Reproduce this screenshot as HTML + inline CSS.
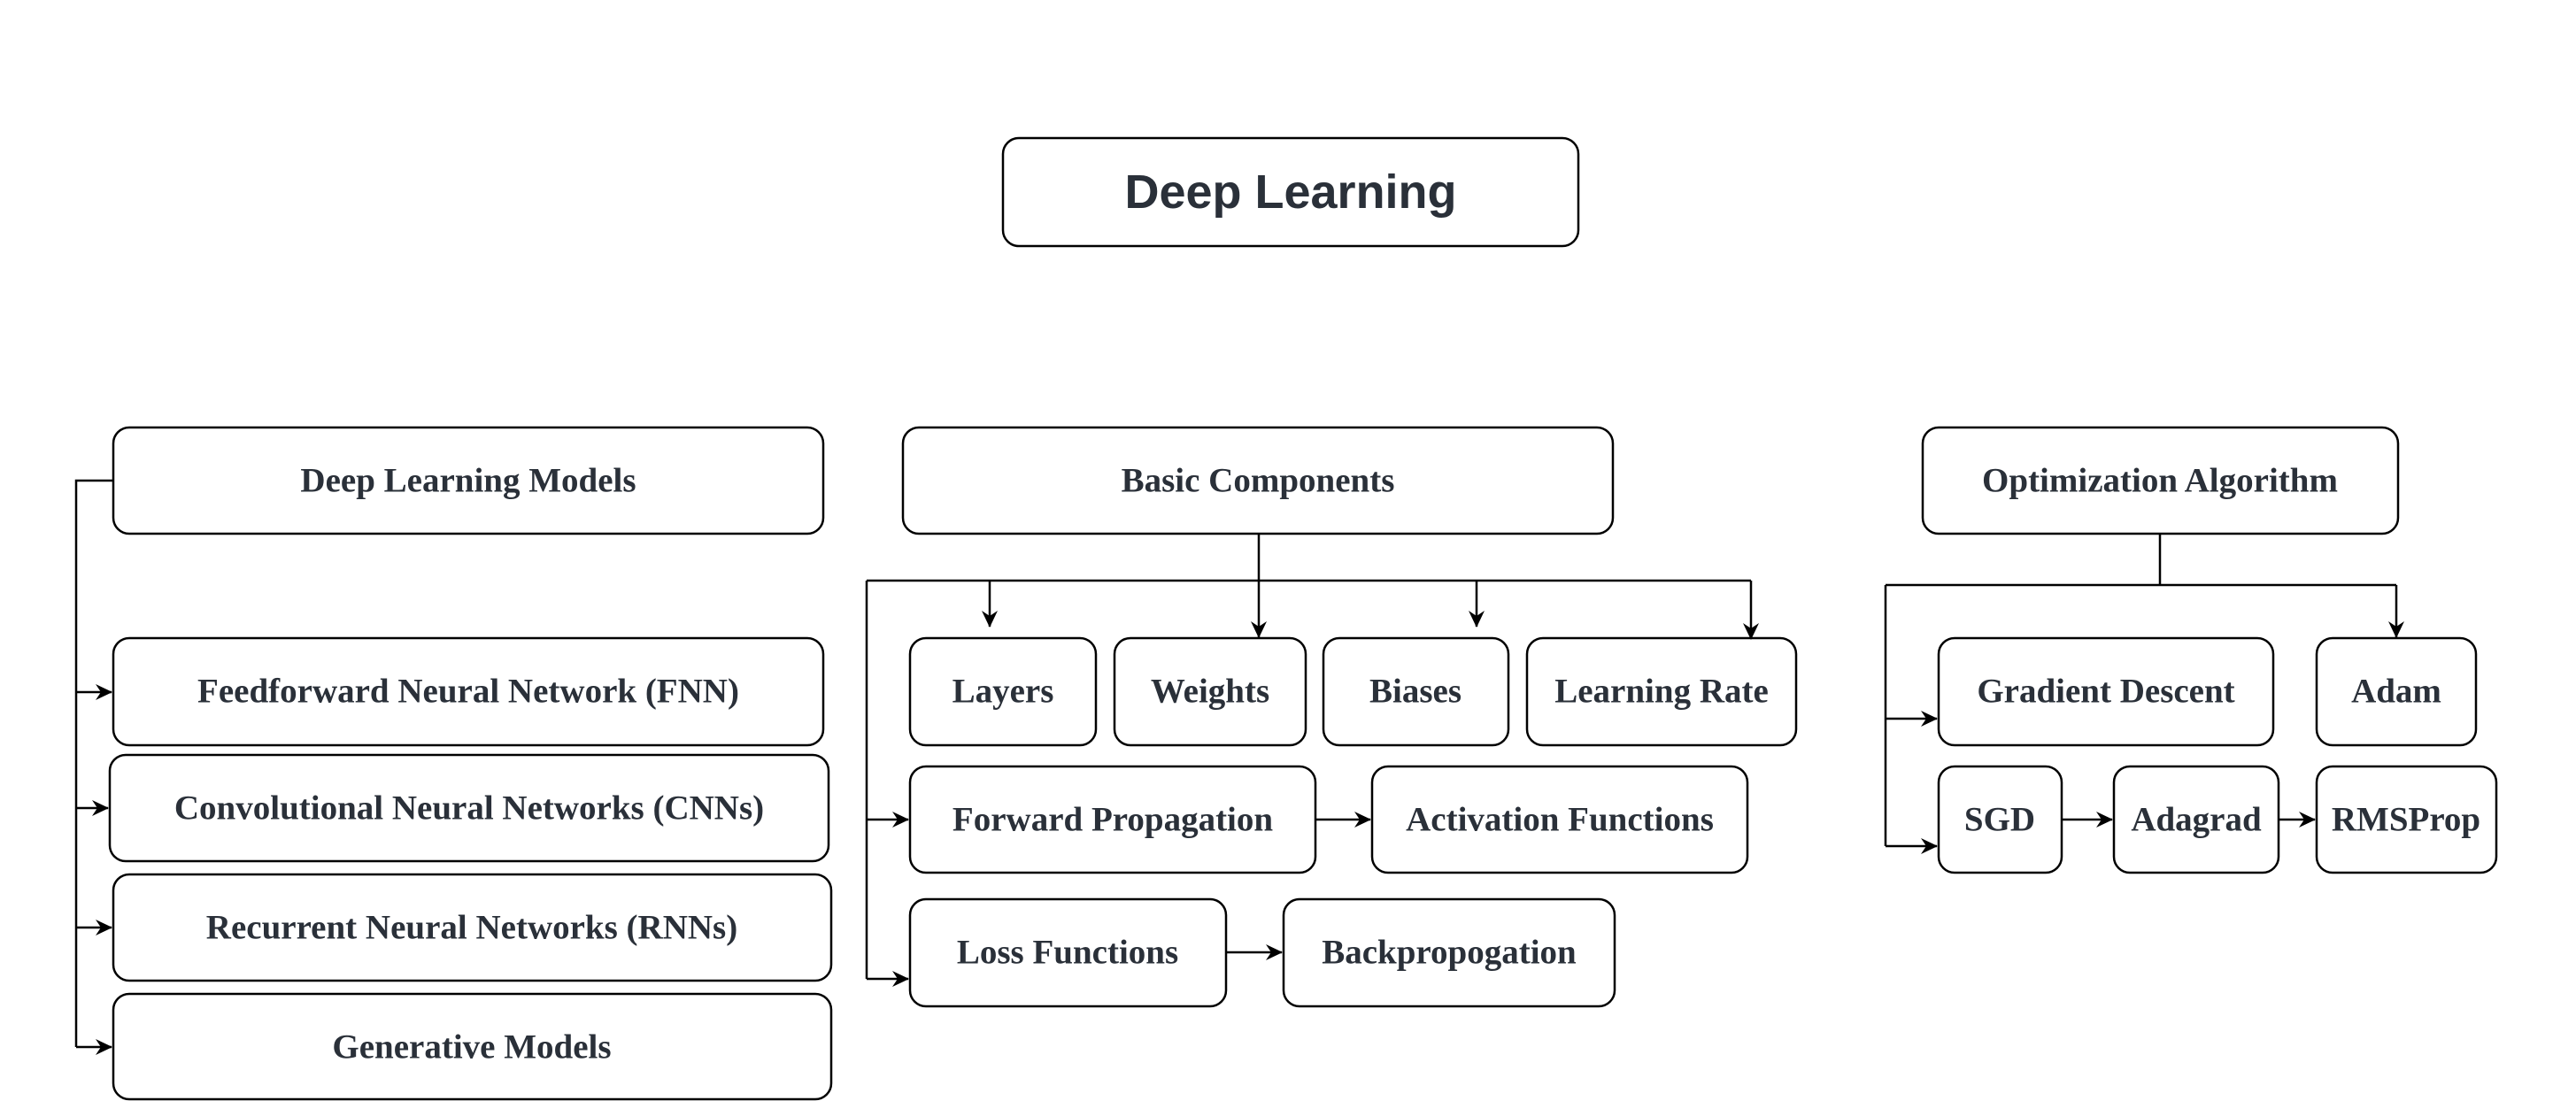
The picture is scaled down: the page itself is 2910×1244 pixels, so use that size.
<!DOCTYPE html>
<html><head><meta charset="utf-8"><style>
html,body{margin:0;padding:0;background:#fff}
svg{display:block}
text{font-family:"Liberation Serif",serif;font-weight:bold;font-size:39px;fill:#2a3039;text-anchor:middle;dominant-baseline:central}
</style></head><body>
<svg width="2910" height="1244" viewBox="0 0 2910 1244" xmlns="http://www.w3.org/2000/svg">
<defs><marker id="a" markerWidth="20" markerHeight="20" refX="18" refY="10" orient="auto" markerUnits="userSpaceOnUse"><path d="M0,1 L19,10 L0,19 L6,10 z" fill="#000"/></marker></defs>
<g fill="#fff" stroke="#000" stroke-width="2.5">
<rect x="1133" y="156" width="650" height="122" rx="18"/>
<rect x="128" y="483" width="802" height="120" rx="18"/>
<rect x="1020" y="483" width="802" height="120" rx="18"/>
<rect x="2172" y="483" width="537" height="120" rx="18"/>
<rect x="128" y="721" width="802" height="121" rx="18"/>
<rect x="124" y="853" width="812" height="120" rx="18"/>
<rect x="128" y="988" width="811" height="120" rx="18"/>
<rect x="128" y="1123" width="811" height="119" rx="18"/>
<rect x="1028" y="721" width="210" height="121" rx="18"/>
<rect x="1259" y="721" width="216" height="121" rx="18"/>
<rect x="1495" y="721" width="209" height="121" rx="18"/>
<rect x="1725" y="721" width="304" height="121" rx="18"/>
<rect x="1028" y="866" width="458" height="120" rx="18"/>
<rect x="1550" y="866" width="424" height="120" rx="18"/>
<rect x="1028" y="1016" width="357" height="121" rx="18"/>
<rect x="1450" y="1016" width="374" height="121" rx="18"/>
<rect x="2190" y="721" width="378" height="121" rx="18"/>
<rect x="2617" y="721" width="180" height="121" rx="18"/>
<rect x="2190" y="866" width="139" height="120" rx="18"/>
<rect x="2388" y="866" width="186" height="120" rx="18"/>
<rect x="2617" y="866" width="203" height="120" rx="18"/>
</g>
<g fill="none" stroke="#000" stroke-width="2.5">
<path d="M128,543 H86 V1183"/>
<path d="M86,782 H126" marker-end="url(#a)"/>
<path d="M86,913 H122" marker-end="url(#a)"/>
<path d="M86,1048 H126" marker-end="url(#a)"/>
<path d="M86,1183 H126" marker-end="url(#a)"/>
<path d="M1422,603 V656 M979,656 H1978 M979,656 V1106"/>
<path d="M1118,656 V708" marker-end="url(#a)"/>
<path d="M1422,656 V720" marker-end="url(#a)"/>
<path d="M1668,656 V708" marker-end="url(#a)"/>
<path d="M1978,656 V722" marker-end="url(#a)"/>
<path d="M979,926 H1026" marker-end="url(#a)"/>
<path d="M979,1106 H1026" marker-end="url(#a)"/>
<path d="M1486,926 H1548" marker-end="url(#a)"/>
<path d="M1385,1076 H1448" marker-end="url(#a)"/>
<path d="M2440,603 V661 M2130,661 H2707 M2130,661 V956"/>
<path d="M2707,661 V720" marker-end="url(#a)"/>
<path d="M2130,812 H2188" marker-end="url(#a)"/>
<path d="M2130,956 H2188" marker-end="url(#a)"/>
<path d="M2329,926 H2386" marker-end="url(#a)"/>
<path d="M2574,926 H2615" marker-end="url(#a)"/>
</g>
<text x="1458" y="217" style="font-family:'Liberation Sans',sans-serif;font-size:54px">Deep Learning</text>
<text x="529" y="543">Deep Learning Models</text>
<text x="1421" y="543">Basic Components</text>
<text x="2440" y="543">Optimization Algorithm</text>
<text x="529" y="781">Feedforward Neural Network (FNN)</text>
<text x="530" y="913">Convolutional Neural Networks (CNNs)</text>
<text x="533" y="1048">Recurrent Neural Networks (RNNs)</text>
<text x="533" y="1183">Generative Models</text>
<text x="1133" y="781">Layers</text>
<text x="1367" y="781">Weights</text>
<text x="1599" y="781">Biases</text>
<text x="1877" y="781">Learning Rate</text>
<text x="1257" y="926">Forward Propagation</text>
<text x="1762" y="926">Activation Functions</text>
<text x="1206" y="1076">Loss Functions</text>
<text x="1637" y="1076">Backpropogation</text>
<text x="2379" y="781">Gradient Descent</text>
<text x="2707" y="781">Adam</text>
<text x="2259" y="926">SGD</text>
<text x="2481" y="926">Adagrad</text>
<text x="2718" y="926">RMSProp</text>
</svg>
</body></html>
